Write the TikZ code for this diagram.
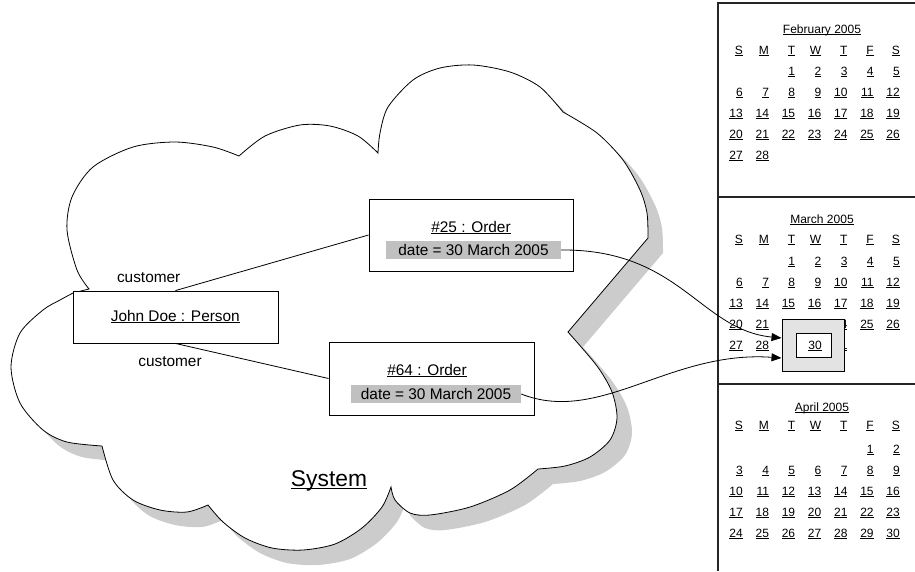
\documentclass[tikz,border=0pt]{standalone}
\usepackage{fontspec}
\setmainfont{Liberation Sans}
\usetikzlibrary{arrows.meta}
\definecolor{bandgray}{RGB}{192,192,192}
\definecolor{shadowgray}{RGB}{204,204,204}
\definecolor{selgray}{RGB}{227,227,227}
\newcommand{\myul}[1]{\setbox0=\hbox{#1}\leavevmode\rlap{\rule[-0.11em]{\wd0}{0.065em}}\box0}
\tikzset{
  maintext/.style={font=\fontsize{15.4}{18}\selectfont, inner sep=0pt},
  caltext/.style={font=\fontsize{12}{14}\selectfont, inner sep=0pt},
  objbox/.style={draw=black, fill=white, line width=0.9pt, inner sep=0pt},
  bandbox/.style={fill=bandgray, inner sep=0pt, font=\fontsize{15.4}{18}\selectfont},
  frameline/.style={line width=1.5pt, draw=black!85},
  conn/.style={line width=0.8pt, draw=black},
}
\newcommand{\calmonth}[6]{%
  \node[caltext, anchor=base] (#1title) at (822,{#2+33.5}) {\myul{#3}};
  \foreach \h [count=\i from 0] in {S,M,T,W,T,F,S}
    \node[caltext, anchor=base east] (#1h\i) at ({743+26.17*\i},{#2+#6}) {\myul{\h}};
  \foreach \d in {1,...,#5}{
    \pgfmathtruncatemacro\cc{mod(#4+\d-1,7)}
    \pgfmathtruncatemacro\rr{div(#4+\d-1,7)}
    \node[caltext, anchor=base east] (#1d\d) at ({743+26.17*\cc},{#2+75.6+20.85*\rr}) {\myul{\d}};
  }
}
\newcommand{\cloudpath}[1]{%
  \path[#1] (89,289)
  -- plot[smooth] coordinates {(89,289) (77,270) (67,230) (72,197) (93,167) (133,147) (175,142) (213,147) (239,156)}
  -- plot[smooth] coordinates {(239,156) (265,136) (300,125) (330,126) (358,136) (378,153)}
  -- plot[smooth] coordinates {(378,153) (380,133) (388,107) (413,80) (440,68) (473,65) (510,72) (540,87) (563,112)}
  -- plot[smooth] coordinates {(563,112) (597,133) (623,160) (640,190) (647,213) (648,238)}
  -- (568,332)
  -- plot[smooth] coordinates {(568,332) (597,366) (612,392) (617,418) (610,440) (590,457) (565,466) (538,469)}
  -- plot[smooth] coordinates {(538,469) (510,490) (470,507) (430,515) (410,513) (395,500) (391,487)}
  -- plot[smooth] coordinates {(391,487) (382,507) (362,528) (335,544) (303,550) (272,548) (245,538) (223,522) (208,505)}
  -- plot[smooth] coordinates {(208,505) (187,512) (160,510) (133,500) (113,480) (102,446)}
  -- plot[smooth] coordinates {(102,446) (67,442) (43,430) (20,403) (11,367) (20,333) (43,310) (60,300) (73,293)}
  -- cycle;}
\begin{document}
\begin{tikzpicture}[x=1pt,y=-1pt]
\useasboundingbox (0,0) rectangle (915,571);
% cloud with shadow
\cloudpath{fill=shadowgray, shift={(15,15)}}
\cloudpath{fill=white, draw=black, line width=0.8pt}
% calendar frame
\draw[frameline] (718,571) -- (718,3) -- (915,3);
\draw[frameline] (718,197) -- (915,197);
\draw[frameline] (718,384) -- (915,384);
\calmonth{feb}{0}{February 2005}{2}{28}{54.8}
\calmonth{mar}{190}{March 2005}{2}{31}{53.5}
\calmonth{apr}{378.3}{April 2005}{5}{30}{51}
% objects
\node[objbox, minimum width=205pt, minimum height=52pt] (person) at (175.5,317) {};
\node[maintext] (persontext) at (175.3,317) {\myul{John Doe : Person}};
\node[objbox, minimum width=204pt, minimum height=72pt] (o25) at (471,235) {};
\node[maintext, anchor=base] (o25title) at (471,232) {\myul{\#25 : Order}};
\node[bandbox, minimum width=175pt, minimum height=18pt] (b25) at (473.5,250) {date = 30 March 2005};
\node[objbox, minimum width=205pt, minimum height=73pt] (o64) at (431.5,378.5) {};
\node[maintext, anchor=base] (o64title) at (427,375) {\myul{\#64 : Order}};
\node[bandbox, minimum width=170pt, minimum height=18pt] (b64) at (436,394) {date = 30 March 2005};
\node[maintext, anchor=base] (cust1) at (148.7,282) {customer};
\node[maintext, anchor=base] (cust2) at (170,366.7) {customer};
\node[font=\fontsize{22.8}{26}\selectfont, inner sep=0pt, anchor=base] (system) at (329,486.7) {\myul{System}};
\draw[conn] (person.north) -- (o25.west);
\draw[conn] (person.south) -- (o64.west);
% selected date
\node[draw=black, fill=selgray, line width=1pt, minimum width=62pt, minimum height=52pt, inner sep=0pt] (sel) at (813,345) {};
\node[draw=black, fill=white, line width=1pt, minimum width=35pt, minimum height=24pt, inner sep=0pt] (selin) at (813.5,345) {};
\node[caltext] (seltext) at (815,345.5) {\myul{30}};
% links to calendar
\draw[conn, -{Triangle[length=10pt,width=8pt]}] (b25.east) .. controls (680,249) and (700,330) .. ([yshift=7pt]sel.west);
\draw[conn, -{Triangle[length=10pt,width=8pt]}] (b64.east) .. controls (600,425) and (670,350) .. ([yshift=-13pt]sel.west);
\end{tikzpicture}
\end{document}
